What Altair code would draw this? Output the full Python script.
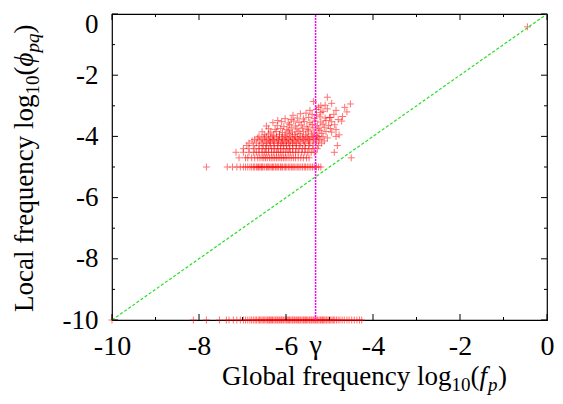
import altair as alt
import pandas as pd

# ---------------- data ----------------
gamma = -5.32
axis_values = [-10, -8, -6, -4, -2, 0]
major_ticks = [-10, -8, -6, -4, -2, 0]
minor_ticks = [-9, -7, -5, -3, -1]

diag_x = [-10, 0]
diag_y = [-10, 0]

# quantised rows of local frequency (log10 of small counts)
row_levels = [-5.0, -4.70, -4.52, -4.40, -4.30, -4.22, -4.15, -4.10, -4.05, -4.00]
row_x = [
    [-7.83, -7.35, -7.23, -7.13, -7.05, -6.98, -6.93, -6.88, -6.83, -6.79, -6.75, -6.72, -6.68, -6.65,
     -6.63, -6.60, -6.57, -6.55, -6.53, -6.49, -6.45, -6.43, -6.40, -6.37, -6.34, -6.31, -6.29, -6.25,
     -6.23, -6.20, -6.17, -6.13, -6.11, -6.08, -6.04, -6.01, -5.98, -5.94, -5.91, -5.87, -5.84, -5.81,
     -5.77, -5.73, -5.70, -5.66, -5.62, -5.58, -5.55, -5.51, -5.47, -5.43, -5.39, -5.35, -5.30, -5.25, -5.20],
    [-7.08, -6.93, -6.88, -6.79, -6.72, -6.65, -6.60, -6.55, -6.51, -6.47, -6.43, -6.38, -6.34, -6.30,
     -6.26, -6.22, -6.18, -6.14, -6.10, -6.06, -6.02, -5.98, -5.93, -5.88, -5.83, -5.78, -5.72, -5.66,
     -5.60, -5.53, -5.47, -4.50],
    [-7.15, -6.98, -6.85, -6.75, -6.68, -6.62, -6.55, -6.50, -6.45, -6.40, -6.33, -6.28, -6.22, -6.17,
     -6.12, -6.07, -6.01, -5.95, -5.90, -5.84, -5.78, -5.72, -5.64, -5.57, -5.50, -5.42, -5.35, -4.89],
    [-6.98, -6.85, -6.72, -6.62, -6.55, -6.47, -6.40, -6.33, -6.26, -6.19, -6.12, -6.05, -5.98, -5.92,
     -5.85, -5.77, -5.70, -5.62, -5.55, -5.47, -5.38, -5.28],
    [-6.90, -6.75, -6.62, -6.52, -6.45, -6.36, -6.28, -6.20, -6.13, -6.06, -5.99, -5.91, -5.84, -5.76,
     -5.68, -5.58, -5.48, -5.38, -5.25, -4.82],
    [-6.85, -6.68, -6.55, -6.44, -6.36, -6.27, -6.18, -6.10, -6.02, -5.94, -5.85, -5.77, -5.66, -5.55,
     -5.45, -5.32, -5.18],
    [-6.78, -6.60, -6.48, -6.38, -6.28, -6.18, -6.08, -5.99, -5.90, -5.80, -5.70, -5.58, -5.46, -5.30, -5.12],
    [-6.72, -6.55, -6.40, -6.30, -6.18, -6.07, -5.95, -5.84, -5.72, -5.60, -5.48, -5.36, -5.22],
    [-6.65, -6.50, -6.35, -6.22, -6.10, -5.98, -5.86, -5.74, -5.62, -5.50, -5.38, -5.25, -5.05],
    [-6.62, -6.45, -6.30, -6.15, -6.02, -5.90, -5.78, -5.66, -5.52, -5.40, -5.28, -5.15, -4.85],
]

# sparser points above the quantised rows
upper_x = [-6.50, -6.40, -6.28, -6.15, -6.02, -5.92, -5.80, -5.68, -5.55, -5.42, -5.30, -5.18,
           -6.55, -6.35, -6.22, -6.08, -5.95, -5.85, -5.72, -5.60, -5.48, -5.35, -5.22, -5.08, -4.95,
           -6.40, -6.25, -6.12, -5.98, -5.88, -5.75, -5.62, -5.50, -5.38, -5.25, -5.12, -4.98, -4.85,
           -6.45, -6.20, -6.05, -5.92, -5.78, -5.65, -5.52, -5.40, -5.28, -5.15, -5.02, -4.88,
           -6.30, -6.10, -5.95, -5.82, -5.70, -5.58, -5.45, -5.33, -5.20, -5.08, -4.95,
           -6.19, -6.02, -5.88, -5.74, -5.60, -5.48, -5.35, -5.22, -5.10, -4.98, -4.80,
           -5.84, -5.67, -5.54, -5.40, -5.30, -5.20, -5.00, -4.90, -4.70,
           -5.45, -5.30, -5.15, -5.05, -4.85,
           -5.37, -5.20, -5.10, -5.25, -5.05, -4.52, -4.95,
           -4.72, -4.78, -4.65, -4.60, -0.45]
upper_y = [-3.95, -3.92, -3.96, -3.93, -3.95, -3.90, -3.94, -3.91, -3.95, -3.92, -3.96, -3.90,
           -3.85, -3.86, -3.84, -3.87, -3.82, -3.86, -3.83, -3.85, -3.82, -3.86, -3.80, -3.84, -3.86,
           -3.75, -3.77, -3.74, -3.78, -3.72, -3.76, -3.73, -3.77, -3.72, -3.75, -3.70, -3.74, -3.78,
           -3.66, -3.65, -3.68, -3.62, -3.66, -3.63, -3.67, -3.61, -3.65, -3.60, -3.64, -3.62,
           -3.55, -3.52, -3.56, -3.50, -3.54, -3.51, -3.55, -3.50, -3.53, -3.48, -3.52,
           -3.48, -3.42, -3.45, -3.40, -3.43, -3.38, -3.42, -3.36, -3.40, -3.38, -3.45,
           -3.31, -3.26, -3.24, -3.28, -3.30, -3.22, -3.38, -3.28, -3.35,
           -3.15, -3.12, -3.18, -3.10, -3.15,
           -2.86, -3.00, -2.98, -3.05, -2.72, -2.94, -2.92,
           -3.50, -3.95, -3.05, -3.20, -0.42]

# points with zero local frequency (plotted at -10)
bottom_x = [-10.0, -8.13, -7.83, -7.53, -7.37, -7.31, -7.21, -7.13, -7.05, -6.98, -6.93, -6.88, -6.83,
            -6.79, -6.75, -6.71, -6.68, -6.64, -6.61, -6.58, -6.55, -6.52, -6.49, -6.46, -6.43, -6.41,
            -6.38, -6.36, -6.33, -6.31, -6.28, -6.25, -6.23, -6.20, -6.18, -6.15, -6.12, -6.10, -6.07,
            -6.05, -6.02, -5.99, -5.97, -5.94, -5.92, -5.89, -5.86, -5.84, -5.81, -5.79, -5.76, -5.73,
            -5.71, -5.68, -5.66, -5.63, -5.60, -5.58, -5.55, -5.53, -5.50, -5.47, -5.45, -5.42, -5.40,
            -5.37, -5.34, -5.32, -5.29, -5.27, -5.24, -5.21, -5.19, -5.16, -5.14, -5.11, -5.08, -5.06,
            -5.03, -5.00, -4.97, -4.94, -4.91, -4.88, -4.84, -4.80, -4.76, -4.71, -4.66, -4.60, -4.55,
            -4.49, -4.43, -4.37, -4.31, -4.26]

# ---------------- tables ----------------
xs, ys = [], []
for lvl, xl in zip(row_levels, row_x):
    xs += xl
    ys += [lvl] * len(xl)
xs += upper_x
ys += upper_y
xs += bottom_x
ys += [-10.0] * len(bottom_x)
pts = pd.DataFrame({"x": xs, "y": ys})
diag = pd.DataFrame({"x": diag_x, "y": diag_y})
gam = pd.DataFrame({"x": [gamma, gamma], "y": [-10, 0], "label": ["γ", "γ"]})
maj = pd.DataFrame({"v": major_ticks})
mnr = pd.DataFrame({"v": minor_ticks})
one = pd.DataFrame({"a": [0]})

# layout (page pixels): plot from x=112..547, y=14..320
LEFT, TOP = 104, 6
W, H = 435, 306
OX, OY = 8 + LEFT, 8 + TOP
FONT = "Liberation Serif"
LBL = "datum.value == 0 ? '0' : '-' + abs(datum.value)"

xsc = alt.Scale(domain=[-10, 0], nice=False, zero=False)
ysc = alt.Scale(domain=[-10, 0], nice=False, zero=False)
xax = alt.Axis(values=axis_values, title=None, domain=False, ticks=False, tickSize=0, grid=False,
               labelFont=FONT, labelFontSize=28, labelColor="black", labelPadding=12,
               labelFlush=False, labelOverlap=False, labelExpr=LBL)
yax = alt.Axis(values=axis_values, title=None, domain=False, ticks=False, tickSize=0, grid=False,
               labelFont=FONT, labelFontSize=27, labelColor="black", labelPadding=14,
               labelFlush=False, labelOverlap=False, labelExpr=LBL,
               labelOffset={"condition": {"test": "datum.value == 0", "value": 10}, "value": 0})

cross = "M-1,0L1,0M0,-1L0,1"
points = alt.Chart(pts).mark_point(shape=cross, filled=False, size=49, strokeWidth=1,
                                   color="#ff0000", opacity=0.55).encode(
    x=alt.X("x:Q", scale=xsc, axis=xax),
    y=alt.Y("y:Q", scale=ysc, axis=yax),
)

diag_line = alt.Chart(diag).mark_line(color="#22e022", strokeWidth=1.2, strokeDash=[3, 2]).encode(
    x=alt.X("x:Q", scale=xsc), y=alt.Y("y:Q", scale=ysc))

gam_line = alt.Chart(gam).mark_line(color="#ff00ff", strokeWidth=1.5, strokeDash=[2, 1]).encode(
    x=alt.X("x:Q", scale=xsc), y=alt.Y("y:Q", scale=ysc))

gam_label = alt.Chart(gam.iloc[:1]).mark_text(font=FONT, fontSize=28, baseline="top", align="center",
                                              color="black").encode(
    x=alt.X("x:Q", scale=xsc), y=alt.value(H + 12), text="label:N")

def rules(df, chan, p1, p2):
    if chan == "x":
        return alt.Chart(df).mark_rule(color="black", strokeWidth=1).encode(
            x=alt.X("v:Q", scale=xsc), y=alt.value(p1), y2=alt.value(p2))
    return alt.Chart(df).mark_rule(color="black", strokeWidth=1).encode(
        y=alt.Y("v:Q", scale=ysc), x=alt.value(p1), x2=alt.value(p2))

MJ, MN = 6, 3
tick_layers = [
    rules(maj, "x", H, H - MJ), rules(mnr, "x", H, H - MN),
    rules(maj, "x", 0, MJ), rules(mnr, "x", 0, MN),
    rules(maj, "y", 0, MJ), rules(mnr, "y", 0, MN),
    rules(maj, "y", W, W - MJ), rules(mnr, "y", W, W - MN),
]

def txt(t, px, py, size, italic=False, angle=0):
    kw = dict(text=t, font=FONT, fontSize=size, align="left", baseline="alphabetic", color="black")
    if italic:
        kw["fontStyle"] = "italic"
    if angle:
        kw["angle"] = angle
    return alt.Chart(one).mark_text(**kw).encode(x=alt.value(px - OX), y=alt.value(py - OY))

F, S, SUB = 27, 19, 6
xb = 385  # page baseline of x title
xtitle = [
    txt("Global frequency log", 222, xb, F),
    txt("10", 451.5, xb + SUB, S),
    txt("(", 470.5, xb, F),
    txt("f", 479.5, xb, F, italic=True),
    txt("p", 488, xb + SUB, S, italic=True),
    txt(")", 498, xb, F),
]
yb = 33  # page x of y-title baseline
ytitle = [
    txt("Local frequency log", yb, 312, F, angle=270),
    txt("10", yb + SUB, 94.6, S, angle=270),
    txt("(", yb, 75.6, F, angle=270),
    txt("ϕ", yb, 66.6, F, italic=True, angle=270),
    txt("pq", yb + SUB, 52.6, S, italic=True, angle=270),
    txt(")", yb, 33.6, F, angle=270),
]

chart = alt.layer(points, diag_line, gam_line, gam_label, *tick_layers, *xtitle, *ytitle).properties(
    width=W, height=H,
    autosize=alt.AutoSizeParams(type="none"),
    padding={"left": LEFT, "top": TOP, "right": 547 - LEFT - W, "bottom": 388 - TOP - H},
).configure(
    background="white",
    view=alt.ViewConfig(stroke="black", strokeWidth=1.2),
)

chart.save("out.html", embed_options={"renderer": "svg", "actions": False})
